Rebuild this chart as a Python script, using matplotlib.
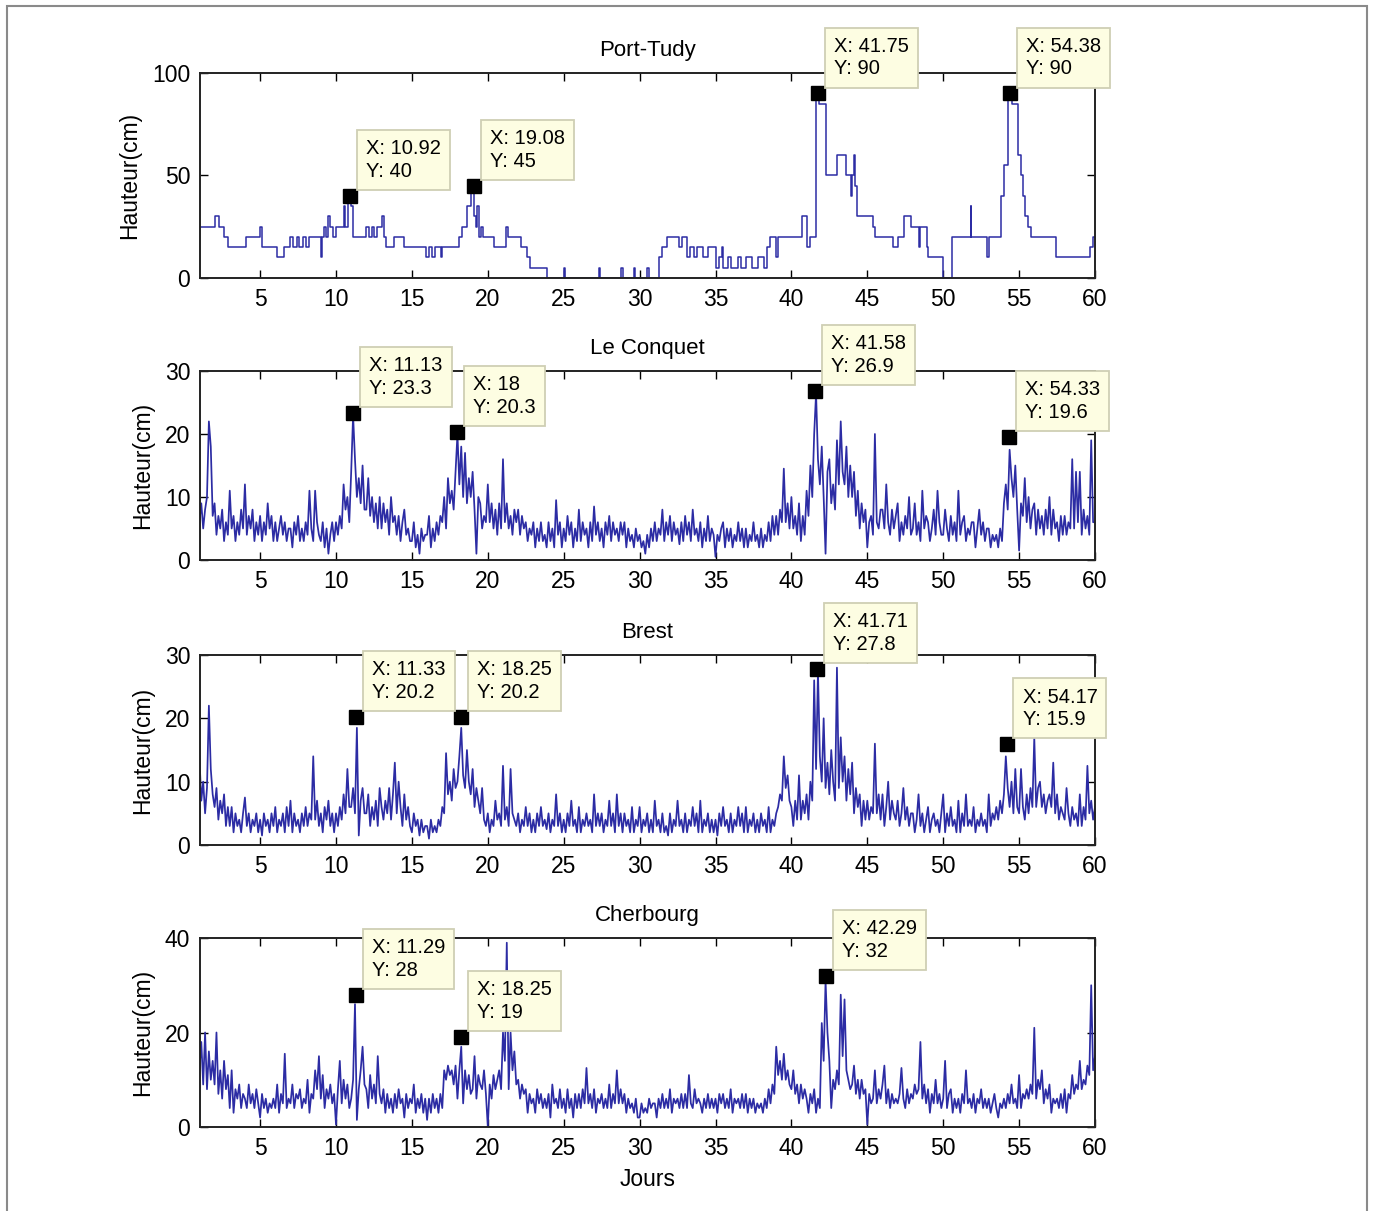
import numpy as np
import matplotlib
matplotlib.use('Agg')
import matplotlib.pyplot as plt
from matplotlib.patches import Rectangle

# ---------------- data ----------------
stations = ['Port-Tudy', 'Le Conquet', 'Brest', 'Cherbourg']
x_ticks = [5, 10, 15, 20, 25, 30, 35, 40, 45, 50, 55, 60]
y_ticks = {
    'Port-Tudy': [0, 50, 100],
    'Le Conquet': [0, 10, 20, 30],
    'Brest': [0, 10, 20, 30],
    'Cherbourg': [0, 20, 40],
}
y_label = 'Hauteur(cm)'
x_label = 'Jours'

# Port-Tudy: step record (day, height in cm)
pt_days = [1.04, 2.0, 2.3, 2.6, 2.9, 4.1, 5.0, 5.15, 6.1, 6.6, 7.0, 7.15, 7.4, 7.55, 7.8, 8.0,
           8.2, 9.0, 9.05, 9.2, 9.35, 9.5, 9.6, 9.8, 10.0, 10.5, 10.6, 10.8, 11.0, 11.1,
           12.0, 12.15, 12.35, 12.5, 12.7, 13.0, 13.15, 13.3, 13.8, 14.5, 15.9, 16.1, 16.3,
           16.5, 16.9, 17.0, 18.1, 18.3, 18.6, 18.9, 19.1, 19.2, 19.3, 19.4, 19.55, 19.7,
           20.4, 21.2, 21.35, 22.2, 22.6, 22.8, 23.9, 25.0, 25.1, 27.3, 27.4, 28.8, 28.9,
           29.6, 29.7, 30.5, 30.6, 31.3, 31.5, 31.8, 32.6, 32.8, 33.1, 33.3, 33.6, 33.8,
           34.2, 34.5, 35.0, 35.2, 35.4, 35.5, 35.8, 36.0, 36.5, 36.7, 37.0, 37.4, 37.8,
           38.2, 38.4, 38.6, 39.0, 39.1, 40.7, 41.0, 41.2, 41.65, 41.85, 42.25, 43.0, 43.6,
           43.9, 44.0, 44.1, 44.2, 44.3, 45.4, 45.5, 46.7, 47.0, 47.4, 47.9, 48.4, 48.5,
           48.9, 49.0, 50.0, 50.6, 51.8, 51.85, 52.9, 53.0, 53.8, 54.0, 54.3, 54.5, 54.95,
           55.1, 55.25, 55.4, 55.6, 55.8, 57.4, 59.7, 59.9, 60.0]
pt_heights = [25, 30, 25, 20, 15, 20, 25, 15, 10, 15, 20, 15, 20, 15, 20, 15,
              20, 10, 20, 25, 20, 30, 25, 20, 25, 35, 25, 40, 35, 20,
              25, 20, 25, 20, 25, 30, 20, 15, 20, 15, 10, 15, 10,
              15, 10, 15, 20, 25, 35, 45, 30, 25, 35, 20, 25, 20,
              15, 25, 20, 15, 10, 5, 0, 5, 0, 5, 0, 5, 0,
              5, 0, 5, 0, 10, 15, 20, 15, 20, 10, 15, 10, 15,
              10, 15, 5, 10, 15, 5, 10, 5, 10, 5, 10, 5, 10,
              5, 15, 20, 10, 20, 30, 15, 20, 90, 85, 50, 60, 50,
              40, 50, 60, 45, 30, 25, 20, 15, 20, 30, 25, 15, 25,
              15, 10, 0, 20, 35, 20, 10, 20, 40, 55, 90, 85, 60,
              50, 40, 30, 25, 20, 10, 15, 20, 20]

# other stations: heights read every 3 h (days 1 .. 60), one row per day
sample_days = np.arange(1.0, 60.001, 0.125)

lc_heights = [
    6, 9, 5, 8, 10, 22, 18, 7,
    9, 4, 7, 5, 8, 3, 6, 4,
    11, 5, 7, 3, 6, 4, 8, 5,
    12, 4, 7, 5, 8, 3, 6, 4,
    7, 3, 6, 4, 9, 5, 7, 3,
    6, 3, 5, 7, 4, 6, 3, 5,
    5, 2, 6, 4, 7, 3, 5, 3,
    6, 4, 11, 5, 3, 11, 6, 4,
    3, 6, 2, 5, 1, 4, 6, 3,
    6, 4, 7, 5, 12, 8, 10, 6,
    14, 23, 16, 10, 13, 9, 15, 8,
    8, 13, 7, 10, 6, 9, 5, 10,
    5, 9, 6, 8, 4, 10, 6, 7,
    4, 7, 3, 6, 8, 4, 5, 3,
    3, 6, 2, 4, 1, 5, 3, 4,
    4, 7, 2, 5, 3, 6, 4, 7,
    6, 10, 5, 13, 9, 11, 8, 14,
    20, 12, 18, 10, 17, 9, 13, 10,
    14, 8, 1, 10, 9, 5, 7, 6,
    12, 6, 9, 5, 8, 4, 9, 5,
    16, 6, 9, 5, 7, 4, 8, 6,
    8, 4, 7, 5, 6, 3, 5, 4,
    6, 2, 5, 3, 6, 3, 4, 2,
    6, 3, 5, 2, 9.5, 4, 6, 2,
    5, 3, 7, 4, 6, 2, 5, 3,
    8, 3, 6, 4, 5, 2, 6, 3,
    8.5, 4, 6, 3, 5, 2, 6, 4,
    7, 3, 6, 4, 5, 3, 6, 4,
    6, 2, 5, 3, 4, 2, 5, 3,
    4, 2, 3, 1, 4, 2, 5, 3,
    6, 3, 5, 4, 8, 3, 6, 4,
    7, 3, 6, 4, 5, 2.5, 6, 3,
    7, 4, 6, 3, 8, 4, 5, 3,
    6, 2, 5, 3, 7, 3, 5, 4,
    0.5, 4, 3, 5, 6, 2, 5, 3,
    5, 2, 4, 3, 6, 3, 5, 2,
    5, 2, 4, 3, 6, 3, 4, 2,
    5, 2, 4, 3, 6, 3, 7, 4,
    7, 4, 8, 6, 14.5, 6, 9, 5,
    10, 5, 7, 4, 9, 3, 7, 4,
    11, 7, 15, 10, 20, 26.5, 16, 12,
    18, 10, 1, 14, 16, 9, 12, 8,
    19, 12, 22, 14, 12, 18, 10, 15,
    10, 14, 7, 11, 5, 9, 6, 8,
    2, 6, 7, 4, 20, 6, 5, 8,
    8, 5, 12, 6, 4, 8, 5, 7,
    9, 3, 6, 4, 7, 5, 10, 4,
    5, 9, 4, 6, 3, 11, 5, 7,
    6, 3, 5, 8, 4, 11, 6, 4,
    4, 8, 5, 3, 7, 4, 6, 3,
    11, 4, 6, 7, 3, 5, 4, 6,
    6, 2, 5, 8, 4, 6, 3, 5,
    5, 2, 4, 3, 4, 2, 5, 3,
    9, 12, 8, 17.5, 13, 10, 15, 8,
    1.5, 9, 7, 13, 6, 10, 5, 8,
    9, 4, 8, 5, 7, 4, 8, 5,
    10, 4, 8, 5, 6, 3, 7, 4,
    7, 4, 6, 5, 16, 5, 14, 6,
    14, 4, 8, 5, 7, 4, 19, 6,
    6]

br_heights = [
    14, 7, 10, 5, 9, 22, 12, 8,
    6, 9, 4, 7, 5, 8, 3, 6,
    3, 6, 2, 5, 3, 4, 2, 5,
    7.5, 3, 5, 2, 4, 3, 5, 2,
    4, 1.5, 5, 3, 4, 2, 5, 3,
    6, 2, 4, 3, 5, 2, 6, 3,
    7, 2, 5, 3, 4, 2, 5, 3,
    6, 3, 5, 4, 14, 4, 7, 3,
    5, 2, 6, 4, 7, 3, 5, 2,
    5, 3, 6, 4, 8, 5, 12, 6,
    6, 9, 5, 18.5, 1.5, 7, 9, 5,
    5, 8, 3, 6, 4, 7, 3, 9,
    6, 4, 7, 5, 9, 4, 8, 13,
    5, 10, 6, 3, 8, 4, 6, 3,
    2, 5, 3, 4, 1.5, 4, 2, 3,
    3, 1, 4, 2, 3, 2, 4, 3,
    6, 5, 14.5, 8, 10, 7, 12, 9,
    10, 14, 18.5, 11, 9, 15, 10, 8,
    12, 6, 9, 7, 5, 9, 4, 3,
    5, 2, 4, 3, 7, 4, 5, 3,
    12.5, 4, 6, 3, 12, 5, 4, 3,
    5, 2, 4, 3, 6, 3, 5, 2,
    4, 2, 5, 3, 6, 3, 4, 2.5,
    5, 2, 4, 3, 8, 3, 5, 2,
    4, 2, 5, 3, 7, 3, 4, 2,
    6, 2, 4, 3, 5, 3, 4, 2,
    8, 3, 5, 3, 5, 2, 4, 3,
    7, 3, 5, 2, 8, 3, 5, 2,
    5, 3, 4, 2, 6, 2, 4, 3,
    6, 2, 4, 3, 5, 2, 4, 2,
    7, 3, 4, 2, 5, 2, 3, 1.5,
    5, 2, 4, 3, 7, 3, 4, 2,
    5, 2, 4, 3, 6, 3, 5, 2,
    7, 2, 4, 3, 5, 2, 4, 2,
    4, 1.5, 5, 3, 6, 3, 4, 2,
    5, 2, 4, 3, 6, 3, 5, 2,
    6, 2, 4, 3, 5, 2, 4, 2,
    5, 3, 4, 2, 6, 2, 4, 3,
    5, 6, 8, 7, 14, 9, 11, 7,
    6, 3, 7, 4, 11, 4, 7, 5,
    8, 4, 10, 7, 26, 12, 27.5, 14,
    10, 20, 9, 13, 8, 15, 10, 7,
    28, 9, 17, 10, 14, 7, 12, 8,
    13, 5, 9, 6, 8, 3, 7, 4,
    7, 4, 6, 5, 16, 5, 8, 4,
    8, 3, 6, 10, 4, 7, 5, 4,
    7, 3, 5, 9, 4, 6, 3, 5,
    5, 2, 4, 8, 3, 5, 2, 4,
    6, 2, 4, 5, 3, 4, 2, 5,
    8, 2, 5, 3, 6, 3, 4, 2,
    7, 2, 5, 3, 8, 3, 4, 3,
    6, 2, 4, 3, 5, 3, 4, 2,
    8, 3, 5, 4, 6, 4, 7, 5,
    8, 14, 9, 6, 10, 5, 12, 6,
    5, 12, 6, 4, 8, 5, 9, 6,
    17, 6, 9, 10, 6, 8, 5, 7,
    8, 6, 13, 5, 8, 4, 6, 5,
    4, 9, 5, 3, 6, 4, 5, 3,
    8, 3, 6, 4, 12.5, 5, 7, 4,
    6]

ch_heights = [
    12, 18, 9, 20, 8, 16, 10, 14,
    9, 20, 7, 12, 6, 14, 8, 11,
    4, 12, 3, 8, 6, 9, 4, 7,
    6, 4, 9, 5, 7, 4, 8, 5,
    2, 7, 4, 6, 3, 5, 4, 6,
    4, 9, 3, 7, 5, 15.5, 4, 6,
    5, 9, 4, 7, 6, 8, 4, 6,
    5, 10, 3, 7, 6, 12, 8, 15,
    6, 11, 4, 8, 6, 9, 5, 7,
    0.5, 8, 14, 5, 10, 6, 9, 4,
    6, 10, 26, 1.5, 8, 12, 17, 9,
    8, 4, 11, 6, 9, 5, 15, 7,
    5, 8, 3, 7, 4, 6, 3, 7,
    4, 8, 5, 6, 2, 7, 4, 6,
    5, 9, 3, 6, 4, 7, 3, 6,
    1.5, 6, 3, 7, 4, 6, 3, 7,
    4, 12, 10, 13, 11, 12, 9, 13,
    6, 12, 17, 5, 12, 8, 11, 7,
    8, 15, 6, 11, 9, 8, 12, 7,
    0, 9, 6, 11, 8, 10, 12, 8,
    20, 14, 39, 8, 20, 12, 16, 9,
    10, 6, 9, 7, 8, 3, 7, 5,
    6, 3, 8, 5, 7, 4, 6, 4,
    7, 2, 9, 5, 6, 4, 8, 4,
    6, 3, 8, 4, 6, 2, 7, 4,
    7, 4, 8, 5, 12.5, 5, 7, 4,
    8, 3, 6, 5, 7, 4, 6, 4,
    9, 4, 7, 5, 12, 5, 8, 5,
    7, 3, 6, 4, 5, 3, 6, 2,
    2, 5, 3, 4, 3, 6, 4, 5,
    5, 2, 6, 4, 7, 4, 6, 4,
    8, 3, 6, 5, 6, 4, 7, 4,
    7, 4, 11, 5, 4, 8, 5, 6,
    5, 3, 6, 4, 7, 4, 6, 4,
    6, 3, 7, 5, 7, 4, 6, 4,
    8, 3, 6, 5, 6, 4, 7, 4,
    7, 3, 6, 4, 6, 3, 5, 4,
    5, 3, 6, 4, 8, 5, 9, 7,
    17, 11, 14, 10, 15.5, 10, 12, 9,
    8, 12, 7, 9, 5, 9, 6, 8,
    6, 3, 7, 5, 8, 3, 6, 4,
    22, 14, 31, 20, 14, 4, 10, 8,
    12, 9, 28, 15, 27, 12, 10, 8,
    9, 13, 7, 10, 6, 10, 7, 8,
    0.5, 7, 5, 6, 12, 5, 8, 6,
    9, 13, 5, 8, 4, 7, 5, 6,
    5, 7, 12.5, 6, 4, 8, 5, 7,
    6, 9, 7, 8, 18, 6, 9, 5,
    8, 3, 7, 5, 10, 5, 7, 4,
    6, 14, 4, 7, 8, 3, 6, 4,
    6, 3, 7, 5, 12, 5, 6, 4,
    7, 3, 6, 5, 8, 4, 6, 4,
    6, 3, 5, 7, 4, 2, 5, 4,
    6, 4, 7, 5, 9, 5, 6, 4,
    11, 4, 7, 6, 8, 6, 9, 7,
    21, 6, 10, 8, 12, 5, 8, 6,
    9, 3, 6, 5, 6, 4, 7, 4,
    8, 3, 7, 6, 11, 7, 9, 8,
    14, 8, 10, 9, 13, 11, 30, 12,
    15]

# data tips (X, Y) shown on each panel
tip_x = {
    'Port-Tudy': [10.92, 19.08, 41.75, 54.38],
    'Le Conquet': [11.13, 18, 41.58, 54.33],
    'Brest': [11.33, 18.25, 41.71, 54.17],
    'Cherbourg': [11.29, 18.25, 42.29],
}
tip_y = {
    'Port-Tudy': [40, 45, 90, 90],
    'Le Conquet': [23.3, 20.3, 26.9, 19.6],
    'Brest': [20.2, 20.2, 27.8, 15.9],
    'Cherbourg': [28, 19, 32],
}

# ---------------- drawing ----------------
W, H = 1373, 1211
fig = plt.figure(figsize=(W / 100, H / 100), dpi=100)
plt.rcParams['font.family'] = ['Liberation Sans', 'DejaVu Sans']

# axes boxes in pixels: (left, top, right, bottom)
boxes = {
    'Port-Tudy': (200, 73, 1095, 278),
    'Le Conquet': (200, 371, 1095, 560),
    'Brest': (200, 655, 1095, 845),
    'Cherbourg': (200, 938, 1095, 1127),
}

series = {
    'Le Conquet': lc_heights,
    'Brest': br_heights,
    'Cherbourg': ch_heights,
}

line_color = '#2c2ca4'
axes = []
for name in stations:
    l, t, r, b = boxes[name]
    ax = fig.add_axes([l / W, (H - b) / H, (r - l) / W, (b - t) / H])
    axes.append(ax)
    if name == 'Port-Tudy':
        ax.plot(pt_days, pt_heights, drawstyle='steps-post', color=line_color, lw=1.1, zorder=2)
    else:
        vals = series[name]
        n = min(len(vals), len(sample_days))
        ax.plot(sample_days[:n], vals[:n], color=line_color, lw=1.25, zorder=2)
    yt = y_ticks[name]
    ax.set_xlim(1.04, 60)
    ax.set_ylim(yt[0], yt[-1])
    ax.set_xticks(x_ticks)
    ax.set_yticks(yt)
    ax.tick_params(direction='in', top=True, right=True, length=6, width=1.0,
                   labelsize=16.5, pad=7, colors='black')
    for sp in ax.spines.values():
        sp.set_linewidth(1.4)
        sp.set_color('#222222')
        sp.set_zorder(2.5)
    ax.set_title(name, fontsize=16, pad=12)
    ax.set_ylabel(y_label, fontsize=16.5, labelpad=8)

    # data tips
    for x, y in zip(tip_x[name], tip_y[name]):
        ax.plot([x], [y], marker='s', ms=10, color='black', zorder=5, clip_on=False)
        ax.annotate('X: %g\nY: %g' % (x, y), xy=(x, y), xycoords='data',
                    xytext=(16, 15), textcoords='offset pixels',
                    ha='left', va='bottom', fontsize=14.5, linespacing=1.25,
                    annotation_clip=False, zorder=6,
                    bbox=dict(boxstyle='square,pad=0.45', fc='#fdfde2', ec='#cfcfb4', lw=1.3))

axes[-1].set_xlabel(x_label, fontsize=16.5, labelpad=6)

# outer frame of the picture
fig.add_artist(Rectangle((7 / W, -0.01), (1367 - 7) / W, (H - 6) / H + 0.01,
                         transform=fig.transFigure, fill=False, ec='#8a8a8a', lw=1.5))

fig.savefig('out.png', dpi=100, facecolor='white')
